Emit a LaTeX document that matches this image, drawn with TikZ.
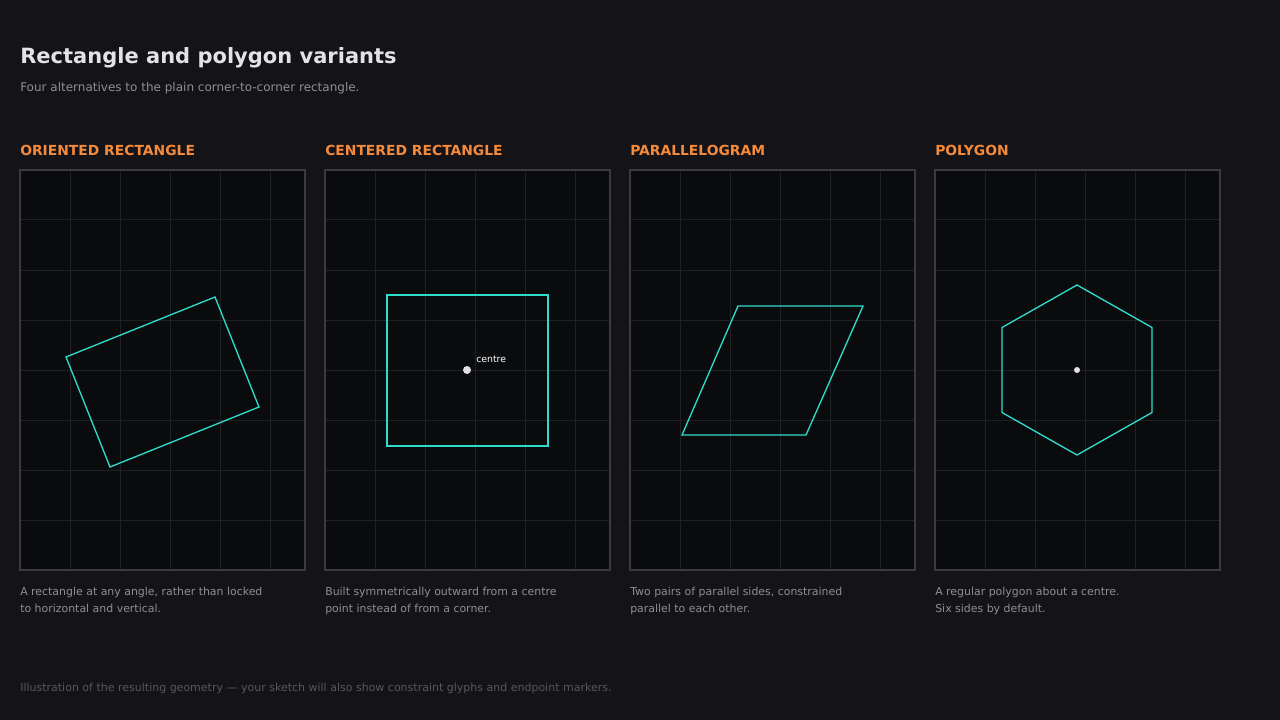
\documentclass[tikz,border=0pt]{standalone}
\usepackage{fontspec}
\setmainfont{DejaVu Sans}
\definecolor{bg}{HTML}{141318}
\definecolor{panelfill}{HTML}{0A0B0D}
\definecolor{panelborder}{HTML}{3A3A40}
\definecolor{gridc}{HTML}{202125}
\definecolor{cyanline}{HTML}{2FDCCB}
\definecolor{orangehead}{HTML}{F58A3A}
\definecolor{titlec}{HTML}{E2E2E8}
\definecolor{subc}{HTML}{8E8E96}
\definecolor{footc}{HTML}{56565C}
\definecolor{dotc}{HTML}{E0E0E6}
\tikzset{
  txt/.style={anchor=base west, inner sep=0pt},
  titletext/.style={txt, text=titlec, font=\fontsize{15.75}{18}\selectfont\bfseries},
  subtext/.style={txt, text=subc, font=\fontsize{9}{11}\selectfont},
  headtext/.style={txt, text=orangehead, font=\fontsize{10.4}{12}\selectfont\bfseries},
  captext/.style={txt, text=subc, font=\fontsize{8.2}{12.75}\selectfont, align=left},
  foottext/.style={txt, text=footc, font=\fontsize{8.25}{10}\selectfont},
  panelbox/.style={draw=panelborder, line width=0.9pt},
  gridline/.style={draw=gridc, line width=0.75pt},
  shapeline/.style={draw=cyanline, line width=1pt, line join=miter},
  dotmark/.style={circle, fill=dotc, inner sep=0pt},
}
\begin{document}
\begin{tikzpicture}[x=0.75pt,y=-0.75pt]
\fill[bg] (0,0) rectangle (1280,720);
\useasboundingbox (0,0) rectangle (1280,720);

\node[titletext] (title) at (20,64) {Rectangle and polygon variants};
\node[subtext] (subtitle) at (20,92) {Four alternatives to the plain corner-to-corner rectangle.};

% panels
\foreach \px in {20,325,630,935}{
  \fill[panelfill] (\px,170) rectangle ++(285,400);
  \foreach \k in {50,100,150,200,250} \draw[gridline] (\px+\k,170) -- (\px+\k,570);
  \foreach \k in {50,100,150,200,250,300,350} \draw[gridline] (\px,170+\k) -- (\px+285,170+\k);
  \draw[panelbox] (\px,170) rectangle ++(285,400);
}

\node[headtext] (h1) at (20,155.5) {ORIENTED RECTANGLE};
\node[headtext] (h2) at (325,155.5) {CENTERED RECTANGLE};
\node[headtext] (h3) at (630,155.5) {PARALLELOGRAM};
\node[headtext] (h4) at (935,155.5) {POLYGON};

% panel 1: oriented rectangle
\coordinate (a1) at (66,357);
\coordinate (a2) at (215,297);
\coordinate (a3) at (259,407);
\coordinate (a4) at (110,467);
\draw[shapeline] (a1) -- (a2) -- (a3) -- (a4) -- cycle;

% panel 2: centered rectangle
\coordinate (b1) at (387,295);
\coordinate (b2) at (548,446);
\draw[shapeline] (b1) rectangle (b2);
\node[dotmark, minimum size=6pt] (cdot) at (467,370) {};
\node[txt, text=white, font=\fontsize{7}{8}\selectfont] (clabel) at (476,362) {centre};

% panel 3: parallelogram
\coordinate (p1) at (738,306);
\coordinate (p2) at (863,306);
\coordinate (p3) at (806,435);
\coordinate (p4) at (682,435);
\draw[shapeline] (p1) -- (p2) -- (p3) -- (p4) -- cycle;

% panel 4: hexagon
\coordinate (hc) at (1077,370);
\draw[shapeline] (1077,285) -- (1152,327.5) -- (1152,412.5) -- (1077,455) -- (1002,412.5) -- (1002,327.5) -- cycle;
\node[dotmark, minimum size=4.5pt] (hdot) at (hc) {};

% captions (base anchor = last line baseline)
\node[captext] (c1) at (20,612) {A rectangle at any angle, rather than locked\\to horizontal and vertical.};
\node[captext] (c2) at (325,612) {Built symmetrically outward from a centre\\point instead of from a corner.};
\node[captext] (c3) at (630,612) {Two pairs of parallel sides, constrained\\parallel to each other.};
\node[captext] (c4) at (935,612) {A regular polygon about a centre.\\Six sides by default.};

\node[foottext] (foot) at (20,691) {Illustration of the resulting geometry — your sketch will also show constraint glyphs and endpoint markers.};
\end{tikzpicture}
\end{document}
